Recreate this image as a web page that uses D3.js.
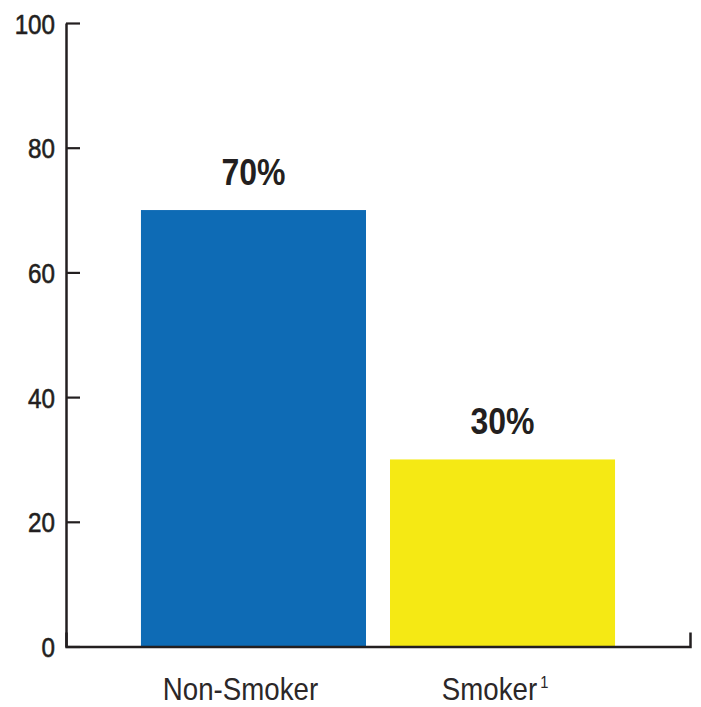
<!DOCTYPE html>
<html>
<head>
<meta charset="utf-8">
<script src="https://cdn.jsdelivr.net/npm/d3@7/dist/d3.min.js"></script>
<style>
  html, body { margin: 0; padding: 0; background: #fff; }
  svg { display: block; }
  text { font-family: "Liberation Sans", Arial, sans-serif; }
</style>
</head>
<body>
<svg id="chart" width="701" height="707"></svg>
<script>
// Share of respondents by smoking status
const categories = ["Non-Smoker", "Smoker"];
const footnotes = ["", "1"];
const values = [70, 30];
const valueLabels = ["70%", "30%"];
const yTicks = [0, 20, 40, 60, 80, 100];
const colors = ["#0e6bb5", "#f5e914"];

const ink = "#231f20";
const squeeze = 0.865; // horizontal condensing for the type
const svg = d3.select("#chart");

const plotLeft = 66, plotRight = 690, plotTop = 23, plotBottom = 646.5;

const x = d3.scaleBand()
  .domain(categories)
  .range([plotLeft, plotRight])
  .paddingInner(0.0964)
  .paddingOuter(0.301);

const y = d3.scaleLinear()
  .domain([0, 100])
  .range([plotBottom, plotTop]);

// Condensed text helper: places text at (px, py) squeezed horizontally
function condensed(parent, px, py) {
  return parent.append("g")
    .attr("transform", `translate(${px},${py}) scale(${squeeze},1)`)
    .append("text");
}

// Bars
svg.append("g")
  .selectAll("rect")
  .data(categories)
  .join("rect")
  .attr("x", d => x(d))
  .attr("y", (d, i) => y(values[i]))
  .attr("width", x.bandwidth())
  .attr("height", (d, i) => y(0) - y(values[i]))
  .attr("fill", (d, i) => colors[i]);

// Value labels above bars
const valueG = svg.append("g");
categories.forEach((c, i) => {
  condensed(valueG, x(c) + x.bandwidth() / 2, y(values[i]) - 25)
    .attr("text-anchor", "middle")
    .attr("font-size", 37)
    .attr("font-weight", "bold")
    .attr("fill", ink)
    .text(valueLabels[i]);
});

// Y axis with inward ticks
const yAxis = svg.append("g")
  .attr("transform", `translate(${plotLeft},0)`)
  .call(d3.axisLeft(y)
    .tickValues(yTicks)
    .tickSizeInner(-14)
    .tickSizeOuter(0)
    .tickPadding(11));
yAxis.select(".domain").attr("stroke", ink).attr("stroke-width", 2.5);
yAxis.selectAll(".tick line").attr("stroke", ink).attr("stroke-width", 2.2);
yAxis.selectAll(".tick text")
  .attr("font-family", "Liberation Sans, Arial, sans-serif")
  .attr("font-size", 28)
  .attr("fill", ink)
  .attr("stroke", ink)
  .attr("stroke-width", 0.6)
  .attr("x", -11 / squeeze)
  .attr("dy", "0.36em")
  .attr("transform", `scale(${squeeze},1)`);

// X axis baseline with upturned end tick
const xAxis = svg.append("g")
  .attr("transform", `translate(0,${plotBottom})`)
  .call(d3.axisBottom(x)
    .tickSizeInner(0)
    .tickSizeOuter(-14)
    .tickFormat(""));
xAxis.select(".domain").attr("stroke", ink).attr("stroke-width", 2.5).attr("fill", "none");
xAxis.selectAll(".tick").remove();

// Category labels with optional footnote markers
const catG = svg.append("g");
categories.forEach((c, i) => {
  const cx = x(c) + x.bandwidth() / 2 - 13;
  const t = condensed(catG, cx, 700)
    .attr("text-anchor", "middle")
    .attr("font-size", 32)
    .attr("fill", "#2b2728")
    .text(c);
  if (footnotes[i]) {
    const w = t.node().getComputedTextLength() * squeeze;
    condensed(catG, cx + w / 2 + 3, 688)
      .attr("font-size", 17)
      .attr("fill", "#2b2728")
      .text(footnotes[i]);
  }
});
</script>
</body>
</html>
